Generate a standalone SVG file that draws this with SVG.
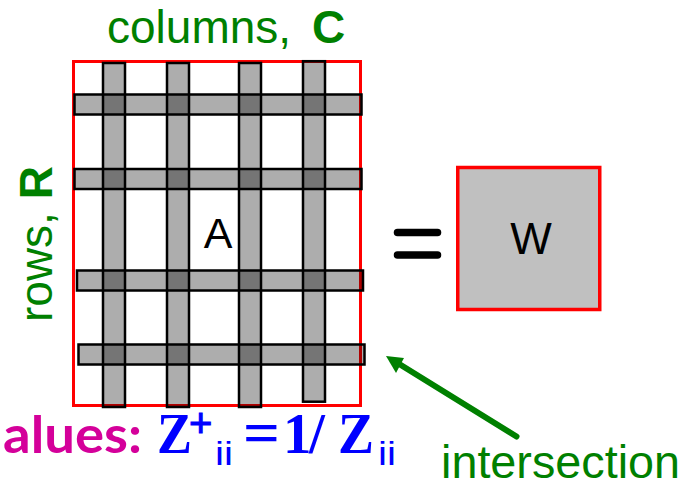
<svg xmlns="http://www.w3.org/2000/svg" width="688" height="485" viewBox="0 0 688 485">
<style>
.bar{fill:#000;fill-opacity:0.32;stroke:#000;stroke-width:2.5}
.green{fill:#008000;font-family:"Liberation Sans",Arial,sans-serif;font-size:46px}
.lbl{fill:#000;font-family:"Liberation Sans",Arial,sans-serif;font-size:43px;text-anchor:middle}
.serif{fill:#0000ff;font-family:"Liberation Serif","Times New Roman",serif;font-weight:bold;font-size:57px}
.sub{fill:#0000ff;font-family:"Liberation Sans",Arial,sans-serif;font-size:34px}
</style>
<rect width="688" height="485" fill="#fff"/>
<g id="matrixA">
<rect x="73.5" y="61.5" width="287" height="344" fill="#fff" stroke="#ff0000" stroke-width="3"/>
<rect class="bar" x="103" y="63" width="22" height="344"/>
<rect class="bar" x="167" y="63" width="22" height="344"/>
<rect class="bar" x="239" y="63" width="22" height="344"/>
<rect class="bar" x="303" y="61.2" width="22" height="340.5"/>
<rect class="bar" x="74.5" y="94.5" width="287" height="20"/>
<rect class="bar" x="74.5" y="169" width="287" height="20"/>
<rect class="bar" x="77" y="270.5" width="286" height="20"/>
<rect class="bar" x="78.5" y="344.5" width="286" height="20"/>
<text class="lbl" x="218" y="248">A</text>
</g>
<g id="columns-label">
<text class="green" x="107" y="43">columns,</text>
<text class="green" x="312" y="43" font-weight="bold">C</text>
</g>
<g id="rows-label">
<text class="green" transform="translate(52,322) rotate(-90)">rows, <tspan font-weight="bold">R</tspan></text>
</g>
<g id="equals">
<line x1="397.5" y1="232.5" x2="437.5" y2="232.5" stroke="#000" stroke-width="7.5" stroke-linecap="round"/>
<line x1="397.5" y1="255" x2="437.5" y2="255" stroke="#000" stroke-width="7.5" stroke-linecap="round"/>
</g>
<g id="matrixW">
<rect x="457.75" y="167.5" width="142" height="142" fill="#c0c0c0" stroke="#ff0000" stroke-width="3.5"/>
<text class="lbl" x="531" y="254" style="font-size:44px">W</text>
</g>
<g id="formula">
<text x="3" y="453" fill="#d4009a" font-family="Lato,'Open Sans',sans-serif" font-weight="bold" font-size="52" textLength="139" lengthAdjust="spacingAndGlyphs">alues:</text>
<text class="serif" x="157" y="453" textLength="35" lengthAdjust="spacingAndGlyphs">Z</text>
<text class="sub" x="189" y="437" style="font-size:40px" stroke="#0000ff" stroke-width="1">+</text>
<text class="sub" x="215" y="465" textLength="18" lengthAdjust="spacingAndGlyphs">ii</text>
<text class="serif" x="243" y="453" style="font-size:62px" textLength="37" lengthAdjust="spacingAndGlyphs">=</text>
<text class="serif" x="283" y="453">1</text>
<text class="serif" x="309" y="453">/</text>
<text class="serif" x="338" y="453" textLength="36" lengthAdjust="spacingAndGlyphs">Z</text>
<text class="sub" x="378" y="465" textLength="18" lengthAdjust="spacingAndGlyphs">ii</text>
</g>
<g id="intersection-label">
<text class="green" x="441" y="478" textLength="239" lengthAdjust="spacingAndGlyphs">intersection</text>
</g>
<g id="connectors">
<line x1="516.5" y1="436.5" x2="400" y2="364.5" stroke="#008000" stroke-width="6" stroke-linecap="round"/>
<polygon points="386,356 404,358 396,373" fill="#008000"/>
</g>
</svg>
